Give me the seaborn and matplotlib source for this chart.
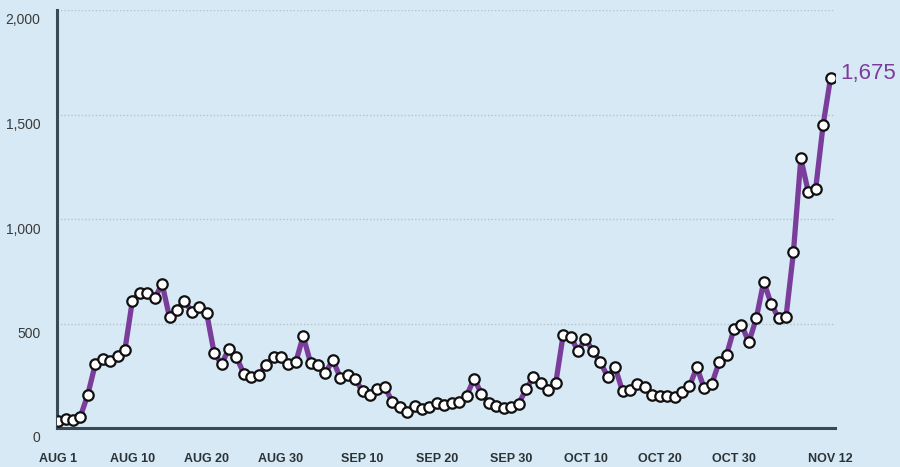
import matplotlib
matplotlib.use("Agg")
import matplotlib.pyplot as plt
import matplotlib.transforms as mtransforms
import seaborn as sns
import pandas as pd

# ---- data ----
values = [35, 45, 40, 55, 160, 305, 330, 320, 345, 375,
          610, 645, 645, 620, 690, 530, 565, 610, 555, 580,
          550, 360, 305, 380, 340, 260, 245, 255, 300, 340,
          340, 305, 315, 440, 310, 300, 265, 325, 240, 255,
          235, 175, 160, 185, 195, 125, 100, 75, 105, 90,
          100, 120, 110, 120, 125, 155, 235, 165, 120, 105,
          95, 100, 115, 185, 245, 215, 180, 215, 445, 435,
          370, 425, 370, 315, 245, 290, 175, 180, 210, 195,
          160, 155, 155, 150, 170, 200, 290, 190, 210, 315,
          350, 475, 495, 410, 525, 700, 595, 525, 530, 840,
          1290, 1130, 1145, 1450, 1675]
day_index = list(range(len(values)))
x_tick_pos = [0, 10, 20, 30, 41, 51, 61, 71, 81, 91, 104]
x_tick_labels = ["AUG 1", "AUG 10", "AUG 20", "AUG 30", "SEP 10", "SEP 20",
                 "SEP 30", "OCT 10", "OCT 20", "OCT 30", "NOV 12"]
y_tick_pos = [0, 500, 1000, 1500, 2000]
y_tick_labels = ["0", "500", "1,000", "1,500", "2,000"]
last_label = "1,675"

df = pd.DataFrame({"day": day_index, "count": values})

BG = "#d7e9f4"
PURPLE = "#7b3d9b"
AXIS = "#3b4a52"

sns.set_theme(style="white")
plt.rcParams["font.family"] = ["Liberation Sans", "DejaVu Sans"]

fig = plt.figure(figsize=(9, 4.67), dpi=100, facecolor=BG)
ax = fig.add_axes([57/900, 1 - 428/467, (835 - 57)/900, (428 - 10)/467])
ax.set_facecolor(BG)

# grid lines
for yv in y_tick_pos[1:]:
    ax.axhline(yv, color="#b4c3cc", linestyle=(0, (1, 1.5)), linewidth=1.0, zorder=1)

sns.lineplot(data=df, x="day", y="count", ax=ax, color=PURPLE, linewidth=3.8,
             marker="o", markersize=7.5, markerfacecolor="white",
             markeredgecolor="#111111", markeredgewidth=1.6, zorder=3)

ax.set_xlim(-0.15, 104.6)
ax.set_ylim(0, 2000)

for s in ["top", "right"]:
    ax.spines[s].set_visible(False)
for s in ["left", "bottom"]:
    ax.spines[s].set_color(AXIS)
    ax.spines[s].set_linewidth(2.2)
    ax.spines[s].set_zorder(2)

ax.set_xticks(x_tick_pos)
ax.set_xticklabels(x_tick_labels, fontsize=9, fontweight="bold", color="#2a3338")
ax.set_yticks(y_tick_pos)
ax.set_yticklabels(y_tick_labels, fontsize=10, color="#3a3a3a")
ax.tick_params(axis="x", length=0, pad=18)
ax.tick_params(axis="y", length=0, pad=12)
offset = mtransforms.ScaledTranslation(0, -9/100, fig.dpi_scale_trans)
for lbl in ax.get_yticklabels():
    lbl.set_transform(lbl.get_transform() + offset)

ax.set_xlabel("")
ax.set_ylabel("")

ax.annotate(last_label, xy=(day_index[-1], values[-1]), xytext=(7, 3),
            textcoords="offset points", ha="left", va="center",
            fontsize=16, color=PURPLE, annotation_clip=False)

fig.savefig("out.png", dpi=100, facecolor=BG)
